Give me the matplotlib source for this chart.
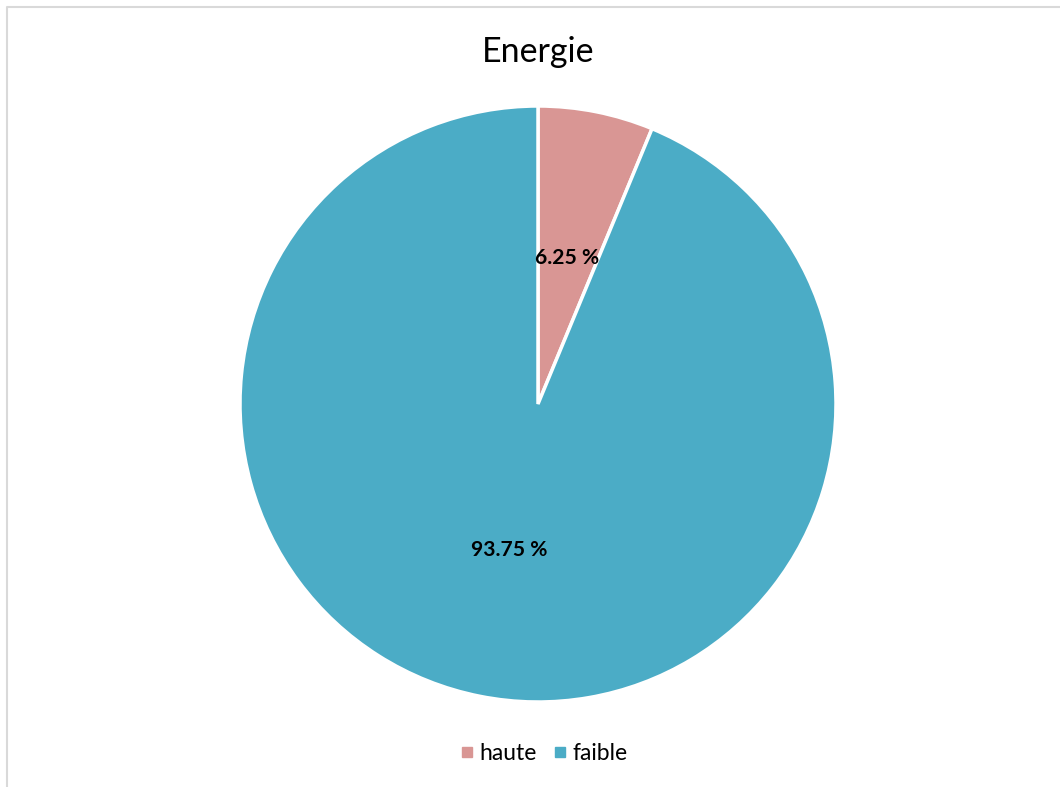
import matplotlib.pyplot as plt
from matplotlib.lines import Line2D

labels = ['haute', 'faible']
values = [6.25, 93.75]
colors = ['#D99694', '#4BACC6']
title = 'Energie'

plt.rcParams['font.family'] = ['Lato', 'DejaVu Sans']

fig = plt.figure(figsize=(10.6, 7.87), dpi=100)
ax = fig.add_axes([240 / 1060, 85 / 787, 596 / 1060, 596 / 787])

wedges, texts, autotexts = ax.pie(
    values, colors=colors, startangle=90, counterclock=False,
    autopct=lambda p: f'{p:.2f} %', pctdistance=0.5,
    wedgeprops=dict(edgecolor='white', linewidth=2.5),
    textprops=dict(fontsize=15.2, fontweight='bold', color='black'))
ax.set_xlim(-1, 1)
ax.set_ylim(-1, 1)
ax.set_aspect('equal')

fig.text(538 / 1060, 1 - 62 / 787, title, ha='center', va='baseline', fontsize=24.5)

handles = [Line2D([], [], marker='s', linestyle='', markersize=7, color=c) for c in colors]
fig.legend(handles, labels, loc='center', bbox_to_anchor=(542 / 1060, 1 - 754 / 787),
           ncol=2, frameon=False, fontsize=16.5, handletextpad=0.1, columnspacing=0.55,
           handlelength=0.9)

# light grey chart border (top and left visible)
fig.add_artist(Line2D([7 / 1060, 7 / 1060, 1], [0, 1 - 7 / 787, 1 - 7 / 787],
                      transform=fig.transFigure, color='#D9D9D9', linewidth=1.5))

fig.savefig('out.png', dpi=100, facecolor='white')
